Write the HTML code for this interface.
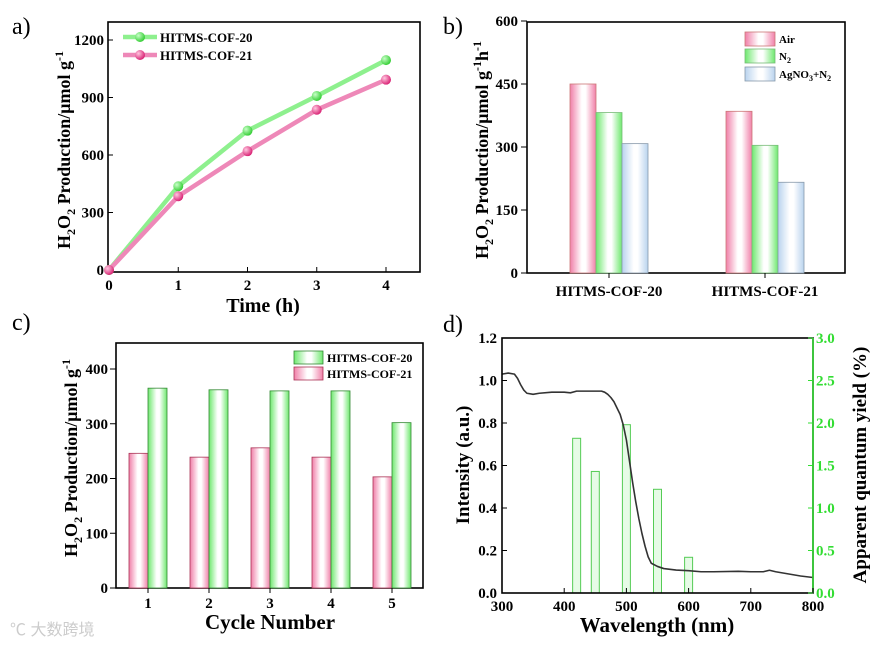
<!DOCTYPE html>
<html><head><meta charset="utf-8"><style>
body{margin:0;background:#fff}
svg{display:block;font-family:"Liberation Serif",serif;font-weight:bold}
</style></head><body>
<svg id="s" width="877" height="645" viewBox="0 0 877 645" xmlns="http://www.w3.org/2000/svg">
<defs>
<linearGradient id="gp" x1="0" x2="1"><stop offset="0" stop-color="#f07fa8"/><stop offset="0.45" stop-color="#fff"/><stop offset="0.6" stop-color="#fff"/><stop offset="1" stop-color="#f07fa8"/></linearGradient>
<linearGradient id="gg" x1="0" x2="1"><stop offset="0" stop-color="#6ee86e"/><stop offset="0.45" stop-color="#fff"/><stop offset="0.6" stop-color="#fff"/><stop offset="1" stop-color="#6ee86e"/></linearGradient>
<linearGradient id="gb" x1="0" x2="1"><stop offset="0" stop-color="#b9d3ee"/><stop offset="0.45" stop-color="#fff"/><stop offset="0.6" stop-color="#fff"/><stop offset="1" stop-color="#b9d3ee"/></linearGradient>
<radialGradient id="mg" cx="0.35" cy="0.35" r="0.7"><stop offset="0" stop-color="#c8ffc8"/><stop offset="1" stop-color="#2ecc2e"/></radialGradient>
<radialGradient id="mp" cx="0.35" cy="0.35" r="0.7"><stop offset="0" stop-color="#ffc8e0"/><stop offset="1" stop-color="#d81b70"/></radialGradient>
</defs>
</svg>
<script>
// Panel a data
const aTimes=[0,1,2,3,4];
const aCof20=[0,437,727,908,1095];
const aCof21=[0,385,620,836,993];
const aYTicks=[0,300,600,900,1200];
// Panel b data
const bGroups=["HITMS-COF-20","HITMS-COF-21"];
const bAir=[450,385];
const bN2=[382,304];
const bAg=[308,216];
const bYTicks=[0,150,300,450,600];
// Panel c data
const cCycles=[1,2,3,4,5];
const cCof20=[365,362,360,360,302];
const cCof21=[246,239,256,239,203];
const cYTicks=[0,100,200,300,400];
// Panel d data
const dWave=[300,310,320,325,330,335,340,350,360,380,400,410,420,440,460,465,470,475,480,485,490,495,500,505,510,515,520,525,530,535,540,550,560,580,600,620,640,680,700,720,730,740,760,780,800];
const dInt=[1.03,1.035,1.03,1.01,0.98,0.955,0.94,0.935,0.94,0.945,0.945,0.942,0.95,0.95,0.95,0.945,0.935,0.92,0.9,0.87,0.84,0.79,0.72,0.62,0.52,0.43,0.35,0.28,0.22,0.17,0.14,0.125,0.115,0.108,0.105,0.1,0.1,0.102,0.1,0.1,0.107,0.1,0.09,0.08,0.073];
const dBarWave=[420,450,500,550,600];
const dAqy=[1.82,1.43,1.98,1.22,0.42];
const dXTicks=[300,400,500,600,700,800];
const dYTicks=[0,0.2,0.4,0.6,0.8,1.0,1.2];
const dY2Ticks=[0,0.5,1.0,1.5,2.0,2.5,3.0];

const S=document.getElementById('s');
const NS="http://www.w3.org/2000/svg";
function mk(tag,at,txt,parent){const e=document.createElementNS(NS,tag);for(const k in at)e.setAttribute(k,at[k]);if(txt!==undefined)e.textContent=txt;(parent||S).appendChild(e);return e;}
function lin(d0,d1,p0,p1){return v=>p0+(v-d0)/(d1-d0)*(p1-p0);}

[["a)",12,34],["b)",443,34],["c)",12,330],["d)",443,332]].forEach(l=>{
  const t=mk('text',{x:l[1],y:l[2],'font-size':24,'font-weight':'normal'},l[0]);
  
  
});

function box(x0,y0,x1,y1,name){const r=mk('rect',{x:x0,y:y0,width:x1-x0,height:y1-y0,fill:'none',stroke:'#000','stroke-width':1.6});}
// parts: [text, dy, small]
function ytitle(x,y,parts,name,color,fs){const t=mk('text',{transform:`translate(${x},${y}) rotate(-90)`,'text-anchor':'middle','font-size':fs||18,fill:color||'#000'});parts.forEach(p=>{const a={};if(p[1])a.dy=p[1];if(p[2])a['font-size']=12;mk('tspan',a,p[0],t);});return t;}
const h2o2=[['H'],['2',5,1],['O',-5],['2',5,1],[' Production/μmol g',-5]];

// ===== Panel a =====
{
const X=lin(0,4,109,386),Y=lin(0,1200,270,40);
box(108,22,420,272,'panel-a-plot-area');
aYTicks.forEach(v=>{const l=mk('line',{x1:108,x2:113,y1:Y(v),y2:Y(v),stroke:'#000'});
 const t=mk('text',{x:104,y:Y(v)+5,'text-anchor':'end','font-size':15},v);});
aTimes.forEach(v=>{const t=mk('text',{x:X(v),y:290,'text-anchor':'middle','font-size':15},v);
 const l=mk('line',{x1:X(v),x2:X(v),y1:272,y2:267,stroke:'#000'});});
const tx=mk('text',{x:263,y:312,'text-anchor':'middle','font-size':20},'Time (h)');
ytitle(70,150,h2o2.concat([['-1',-7,1]]),'a-y-axis-title');
[[aCof20,'#8ef08e','url(#mg)','HITMS-COF-20',37],[aCof21,'#ee88b8','url(#mp)','HITMS-COF-21',55]].forEach(s=>{
 const p=mk('polyline',{points:s[0].map((v,i)=>X(aTimes[i])+','+Y(v)).join(' '),fill:'none',stroke:s[1],'stroke-width':4.5});
 
 s[0].forEach((v,i)=>{const c=mk('circle',{cx:X(aTimes[i]),cy:Y(v),r:5,fill:s[2]});});
 const ll=mk('line',{x1:123,x2:157,y1:s[4],y2:s[4],stroke:s[1],'stroke-width':4.5});
 const lc=mk('circle',{cx:140,cy:s[4],r:5,fill:s[2]});
 const lt=mk('text',{x:160,y:s[4]+5,'font-size':13},s[3]);
});
}

// ===== Panel b =====
{
const Y=lin(0,600,273,21);const centers=[609,765];const bw=26;
box(527,22,845,273,'panel-b-plot-area');
bYTicks.forEach(v=>{const l=mk('line',{x1:527,x2:521,y1:Y(v),y2:Y(v),stroke:'#000'});
 const t=mk('text',{x:518,y:Y(v)+5,'text-anchor':'end','font-size':15},v);});
[[bAir,'url(#gp)','#c77',-1],[bN2,'url(#gg)','#7b7',0],[bAg,'url(#gb)','#89a',1]].forEach(s=>{
 s[0].forEach((v,i)=>{const r=mk('rect',{x:centers[i]+s[3]*bw-bw/2,y:Y(v),width:bw,height:Y(0)-Y(v),fill:s[1],stroke:s[2],'stroke-width':0.8});});
});
bGroups.forEach((g,i)=>{const l=mk('line',{x1:centers[i],x2:centers[i],y1:273,y2:278,stroke:'#000'});
 const t=mk('text',{x:centers[i],y:296,'text-anchor':'middle','font-size':15},g);});
ytitle(488,150,h2o2.concat([['-1',-7,1],['h',7],['-1',-7,1]]),'b-y-axis-title');
[['url(#gp)','#c77',32,'Air'],['url(#gg)','#7b7',49,'N2'],['url(#gb)','#89a',67,'AgNO3+N2']].forEach(l=>{
 const r=mk('rect',{x:745,y:l[2],width:30,height:14,fill:l[0],stroke:l[1],'stroke-width':0.8});
 const t=mk('text',{x:779,y:l[2]+11,'font-size':11});
 if(l[3]==='Air')t.textContent='Air';
 else if(l[3]==='N2'){mk('tspan',{},'N',t);mk('tspan',{'font-size':8,dy:3},'2',t);}
 else{mk('tspan',{},'AgNO',t);mk('tspan',{'font-size':8,dy:3},'3',t);mk('tspan',{dy:-3},'+N',t);mk('tspan',{'font-size':8,dy:3},'2',t);}
});
}

// ===== Panel c =====
{
const Y=lin(0,400,588,369);const X=c=>148+(c-1)*61;const bw=19;
box(116,343,423,588,'panel-c-plot-area');
cYTicks.forEach(v=>{const l=mk('line',{x1:116,x2:110,y1:Y(v),y2:Y(v),stroke:'#000'});
 const t=mk('text',{x:108,y:Y(v)+5,'text-anchor':'end','font-size':15},v);});
cCycles.forEach((c,i)=>{
 const r1=mk('rect',{x:X(c)-bw,y:Y(cCof21[i]),width:bw,height:Y(0)-Y(cCof21[i]),fill:'url(#gp)',stroke:'#a35','stroke-width':0.8});
 const r2=mk('rect',{x:X(c),y:Y(cCof20[i]),width:bw,height:Y(0)-Y(cCof20[i]),fill:'url(#gg)',stroke:'#383','stroke-width':0.8});
 const l=mk('line',{x1:X(c),x2:X(c),y1:588,y2:593,stroke:'#000'});
 const t=mk('text',{x:X(c),y:608,'text-anchor':'middle','font-size':15},c);
});
const tx=mk('text',{x:270,y:629,'text-anchor':'middle','font-size':21},'Cycle Number');
ytitle(77,458,h2o2.concat([['-1',-7,1]]),'c-y-axis-title');
[['url(#gg)','#383',351,'HITMS-COF-20'],['url(#gp)','#a35',367,'HITMS-COF-21']].forEach(l=>{
 const r=mk('rect',{x:294,y:l[2],width:29,height:13,fill:l[0],stroke:l[1],'stroke-width':0.8});
 const t=mk('text',{x:327,y:l[2]+11,'font-size':12},l[3]);
});
const wm=mk('text',{x:10,y:635,'font-size':16,fill:'#ccc','font-weight':'normal','font-family':'"Liberation Sans","Noto Sans CJK SC",sans-serif'},'℃ 大数跨境');
}

// ===== Panel d =====
{
const X=lin(300,800,502,813),Y=lin(0,1.2,593,338),Y2=lin(0,3,593,338);
dBarWave.forEach((w,i)=>{const r=mk('rect',{x:X(w)-4,y:Y2(dAqy[i]),width:8,height:Y2(0)-Y2(dAqy[i]),fill:'#e6fbe6',stroke:'#5c5','stroke-width':1});});
const p=mk('polyline',{points:dWave.map((w,i)=>X(w)+','+Y(dInt[i])).join(' '),fill:'none',stroke:'#333','stroke-width':1.6,'stroke-linejoin':'round'});
box(502,338,813,593,'panel-d-plot-area');
const ra=mk('line',{x1:813,x2:813,y1:338,y2:593,stroke:'#3d3','stroke-width':1.6});
dYTicks.forEach(v=>{const l=mk('line',{x1:502,x2:507,y1:Y(v),y2:Y(v),stroke:'#000'});
 const t=mk('text',{x:497,y:Y(v)+5,'text-anchor':'end','font-size':15},v.toFixed(1));});
dY2Ticks.forEach(v=>{const l=mk('line',{x1:813,x2:808,y1:Y2(v),y2:Y2(v),stroke:'#3d3'});
 const t=mk('text',{x:816,y:Y2(v)+5,'font-size':15,fill:'#3d3'},v.toFixed(1));});
dXTicks.forEach(v=>{const l=mk('line',{x1:X(v),x2:X(v),y1:593,y2:588,stroke:'#000'});
 const t=mk('text',{x:X(v),y:611,'text-anchor':'middle','font-size':15},v);});
const tx=mk('text',{x:657,y:632,'text-anchor':'middle','font-size':21},'Wavelength (nm)');
ytitle(469,465,[['Intensity (a.u.)']],'d-y-axis-title','#000',19);
ytitle(866,465,[['Apparent quantum yield (%)']],'d-y2-axis-title','#000',19);
}
</script>
</body></html>
